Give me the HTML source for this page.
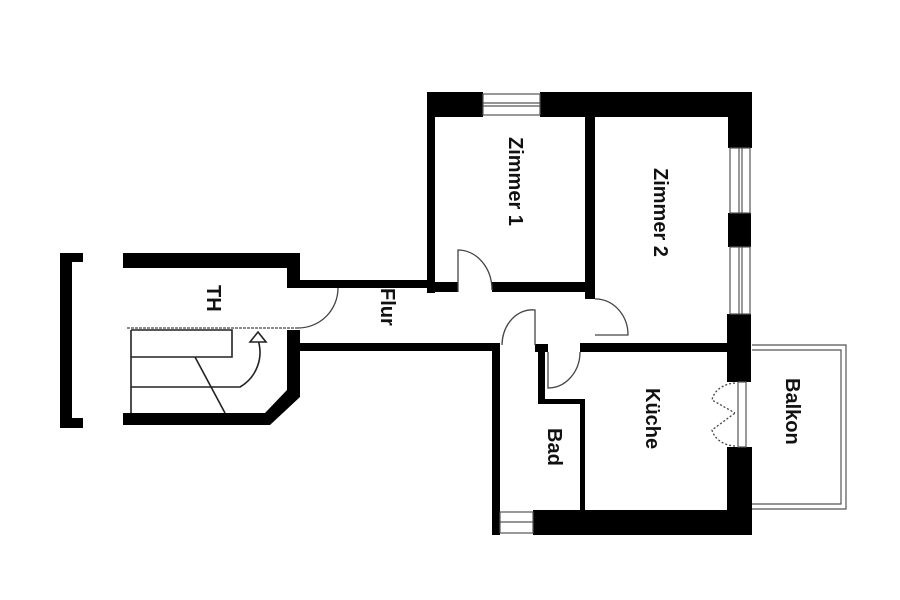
<!DOCTYPE html>
<html><head><meta charset="utf-8"><style>
body{margin:0;background:#fff}
svg{display:block}
text{font-family:"Liberation Sans",sans-serif;font-size:20px;font-weight:bold;fill:#111}
</style></head><body>
<svg width="900" height="600" viewBox="0 0 900 600">
<g fill="#000">
<rect x="427" y="92" width="56" height="25"/>
<rect x="540" y="92" width="212" height="25"/>
<rect x="728" y="92" width="24" height="56"/>
<rect x="728" y="213" width="23" height="34"/>
<rect x="727" y="314" width="24" height="68"/>
<rect x="727" y="447" width="25" height="88"/>
<rect x="533" y="510" width="219" height="25"/>
<rect x="492" y="510" width="8" height="25"/>
<rect x="427" y="92" width="8" height="201"/>
<rect x="427" y="282" width="31" height="10"/>
<rect x="492" y="282" width="100" height="10"/>
<rect x="585" y="117" width="10" height="182"/>
<rect x="300" y="280" width="130" height="8"/>
<rect x="300" y="343" width="200" height="8"/>
<rect x="492" y="343" width="8" height="192"/>
<rect x="580" y="343" width="148" height="9"/>
<rect x="535" y="344" width="13" height="8"/>
<rect x="538" y="350" width="7" height="53"/>
<rect x="538" y="399" width="47" height="5"/>
<rect x="580" y="399" width="5" height="112"/>
<rect x="123" y="253" width="177" height="15"/>
<rect x="287" y="253" width="13" height="35"/>
<rect x="287" y="330" width="13" height="65"/>
<rect x="123" y="413" width="142" height="12"/>
<polygon points="265,413 287,390 300,390 300,397 270,425 265,425"/>
<rect x="60" y="253" width="12" height="175"/>
<rect x="60" y="253" width="23" height="9"/>
<rect x="60" y="418" width="23" height="10"/>
</g>
<g fill="none" stroke="#555" stroke-width="1.2">
<rect x="483" y="94" width="57" height="21"/><line x1="483" y1="103" x2="540" y2="103"/><line x1="483" y1="106" x2="540" y2="106"/>
<rect x="730" y="148" width="20" height="65"/><line x1="739" y1="148" x2="739" y2="213"/><line x1="742" y1="148" x2="742" y2="213"/>
<rect x="730" y="247" width="20" height="67"/><line x1="739" y1="247" x2="739" y2="314"/><line x1="742" y1="247" x2="742" y2="314"/>
<rect x="738" y="382" width="8" height="65"/>
<rect x="500" y="512" width="33" height="21"/><line x1="500" y1="522" x2="533" y2="522"/>
<path d="M752,345 H846 V509 H752"/><path d="M752,350 H841 V504 H752"/>
</g>
<g fill="none" stroke="#444" stroke-width="1.3">
<path d="M458,292 V250 A34,40 0 0 1 492,290"/>
<path d="M595,299 H598 A33,36 0 0 1 628,335 H595"/>
<path d="M502,345 A30,36 0 0 1 535,310 V345"/>
<path d="M548,352 V388 A32,36 0 0 0 580,352"/>
<path d="M338,288 A40,40 0 0 1 298,328"/>
<path d="M298,328 H127" stroke-dasharray="3,1"/>
<path d="M735,383 A25,20 0 0 0 712,400 L735,413 M735,446 A25,20 0 0 1 712,430 L735,413" stroke-dasharray="2,2"/>
</g>
<g fill="none" stroke="#222" stroke-width="1.6">
<path d="M131,330 V413"/>
<path d="M131,330 H232 V357 H131"/>
<path d="M131,387 H240 A40,40 0 0 0 258,340"/>
<line x1="195" y1="357" x2="225" y2="413"/>
<polygon points="250,342 258,332 266,342" fill="#fff"/>
</g>
<g>
<text transform="translate(207,285) rotate(90)">TH</text>
<text transform="translate(381,288) rotate(90)">Flur</text>
<text transform="translate(509,137) rotate(90)">Zimmer 1</text>
<text transform="translate(654,168) rotate(90)">Zimmer 2</text>
<text transform="translate(646,388) rotate(90)">Küche</text>
<text transform="translate(548,428) rotate(90)">Bad</text>
<text transform="translate(786,378) rotate(90)">Balkon</text>
</g>
</svg>
</body></html>
